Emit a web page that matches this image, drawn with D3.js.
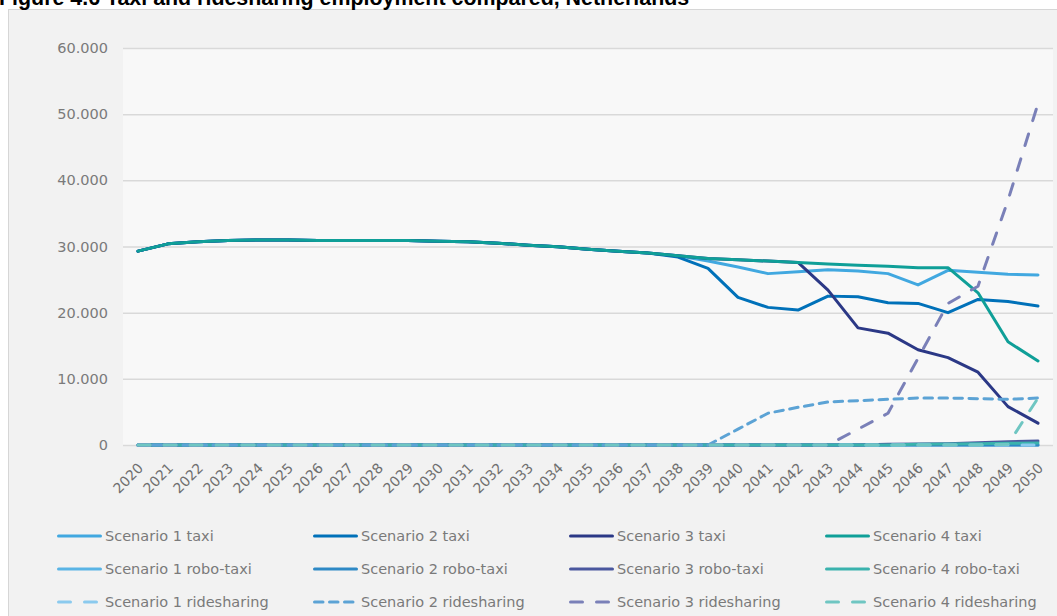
<!DOCTYPE html>
<html>
<head>
<meta charset="utf-8">
<script src="https://cdn.jsdelivr.net/npm/d3@7/dist/d3.min.js"></script>
<style>
  html, body { margin: 0; padding: 0; background: #ffffff; }
  svg { display: block; }
</style>
</head>
<body>
<svg id="chart" width="1057" height="616"></svg>
<script>
// Taxi and ridesharing employment, Netherlands, 2020-2050 (persons)
const years = ["2020","2021","2022","2023","2024","2025","2026","2027","2028","2029","2030",
  "2031","2032","2033","2034","2035","2036","2037","2038","2039","2040",
  "2041","2042","2043","2044","2045","2046","2047","2048","2049","2050"];

const yTicks = [0, 10000, 20000, 30000, 40000, 50000, 60000];

const s1Taxi = [29300,30400,30700,30900,31000,31000,30900,30900,30900,30900,30800,
  30700,30500,30200,29950,29600,29300,29000,28600,27800,26900,
  25900,26200,26500,26300,25900,24200,26400,26100,25800,25700];
const s2Taxi = [29300,30400,30700,30900,31000,31000,30900,30900,30900,30900,30800,
  30700,30500,30200,29950,29600,29300,29000,28400,26700,22300,
  20800,20400,22500,22400,21500,21400,20000,22000,21700,21000];
const s3Taxi = [29300,30400,30700,30900,31000,31000,30900,30900,30900,30900,30800,
  30700,30500,30200,29950,29600,29300,29000,28600,28200,28000,
  27800,27600,23400,17700,16900,14400,13200,11000,5800,3300];
const s4Taxi = [29300,30400,30700,30900,31000,31000,30900,30900,30900,30900,30800,
  30700,30500,30200,29950,29600,29300,29000,28600,28200,28000,
  27800,27600,27350,27150,27000,26800,26800,23000,15600,12700];

const s1Robo = [0,0,0,0,0,0,0,0,0,0,0, 0,0,0,0,0,0,0,0,0,0, 0,0,0,0,0,0,0,0,0,0];
const s2Robo = [0,0,0,0,0,0,0,0,0,0,0, 0,0,0,0,0,0,0,0,0,0, 0,0,0,0,0,0,0,0,0,0];
const s3Robo = [0,0,0,0,0,0,0,0,0,0,0, 0,0,0,0,0,0,0,0,0,0, 0,0,0,0,100,150,200,350,500,600];
const s4Robo = [0,0,0,0,0,0,0,0,0,0,0, 0,0,0,0,0,0,0,0,0,0, 0,0,0,0,0,100,150,200,250,300];

const s1Ride = [0,0,0,0,0,0,0,0,0,0,0, 0,0,0,0,0,0,0,0,0,0, 0,0,0,0,0,0,0,0,0,0];
const s2Ride = [0,0,0,0,0,0,0,0,0,0,0, 0,0,0,0,0,0,0,0,0,2400, 4800,5700,6500,6700,6900,7100,7100,7000,6900,7100];
const s3Ride = [0,0,0,0,0,0,0,0,0,0,0, 0,0,0,0,0,0,0,0,0,0, 0,0,0,2400,4800,13100,21400,24000,37000,51600];
const s4Ride = [0,0,0,0,0,0,0,0,0,0,0, 0,0,0,0,0,0,0,0,0,0, 0,0,0,0,0,0,0,0,100,7100];

const seriesNames = [
  "Scenario 1 taxi", "Scenario 2 taxi", "Scenario 3 taxi", "Scenario 4 taxi",
  "Scenario 1 robo-taxi", "Scenario 2 robo-taxi", "Scenario 3 robo-taxi", "Scenario 4 robo-taxi",
  "Scenario 1 ridesharing", "Scenario 2 ridesharing", "Scenario 3 ridesharing", "Scenario 4 ridesharing"
];
const seriesValues = [s1Taxi, s2Taxi, s3Taxi, s4Taxi, s1Robo, s2Robo, s3Robo, s4Robo, s1Ride, s2Ride, s3Ride, s4Ride];

// Styling
const colors = ["#41a8e0", "#0071b9", "#2b3886", "#0f9f98",
                "#5ab4e5", "#2e89c5", "#4a579e", "#3ab2ad",
                "#8bcaee", "#5ca3d5", "#7a80b8", "#6fc6c2"];
const dashes = [null, null, null, null,
                null, null, null, null,
                "12,14", "8.5,6.5", "12,14", "12,14"];

const series = seriesNames.map((name, i) => ({
  name, color: colors[i], dash: dashes[i],
  values: seriesValues[i].map((v, j) => ({ year: years[j], value: v }))
}));

const svg = d3.select("#chart");
const W = 1057, H = 616;
const plot = { left: 123, right: 1053, top: 48, bottom: 445 };
const fontFamily = "'DejaVu Sans', sans-serif";

// Chart frame
svg.append("rect").attr("x", 0).attr("y", 0).attr("width", W).attr("height", H).attr("fill", "#ffffff");
svg.append("rect")
  .attr("x", 8.5).attr("y", 9.5).attr("width", 1060).attr("height", 620)
  .attr("fill", "#f2f2f2").attr("stroke", "#d6d6d6").attr("stroke-width", 1);
svg.append("rect")
  .attr("x", plot.left).attr("y", plot.top)
  .attr("width", plot.right - plot.left).attr("height", plot.bottom - plot.top)
  .attr("fill", "#f8f8f8");

// Title
svg.append("text")
  .attr("x", -1).attr("y", 5)
  .attr("font-family", "'Liberation Sans', Arial, sans-serif")
  .attr("font-weight", "bold").attr("font-size", 21.4)
  .attr("fill", "#000000")
  .text("Figure 4.6 Taxi and ridesharing employment compared, Netherlands");

// Scales
const x = d3.scalePoint().domain(years).range([plot.left, plot.right]).padding(0.5);
const y = d3.scaleLinear().domain([0, 60000]).range([plot.bottom, plot.top]);

const nlFormat = d3.formatLocale({ decimal: ",", thousands: ".", grouping: [3], currency: ["€", ""] }).format(",.0f");

// Horizontal gridlines + y labels
const yAxis = d3.axisLeft(y).tickValues(yTicks).tickFormat(nlFormat)
  .tickSize(-(plot.right - plot.left)).tickPadding(15);
const gy = svg.append("g").attr("transform", `translate(${plot.left},0)`).call(yAxis);
gy.select(".domain").remove();
gy.selectAll(".tick line").attr("stroke", "#d9d9d9").attr("stroke-width", 1.5);
gy.selectAll(".tick text")
  .attr("font-family", fontFamily).attr("font-size", 14.5)
  .attr("fill", "#7a7a7a");

// X axis labels (rotated)
const xAxis = d3.axisBottom(x).tickSize(0).tickPadding(0);
const gx = svg.append("g").attr("transform", `translate(0,${plot.bottom})`).call(xAxis);
gx.select(".domain").remove();
gx.selectAll(".tick text")
  .attr("font-family", fontFamily).attr("font-size", 14)
  .attr("fill", "#6f6f6f")
  .attr("text-anchor", "end")
  .attr("dy", null).attr("y", null)
  .attr("transform", "translate(5.6,24) rotate(-45)");

// Lines
const line = d3.line()
  .x(d => x(d.year))
  .y(d => y(d.value));

svg.append("g").selectAll("path")
  .data(series)
  .join("path")
  .attr("d", d => line(d.values))
  .attr("fill", "none")
  .attr("stroke", d => d.color)
  .attr("stroke-width", 3)
  .attr("stroke-linejoin", "round")
  .attr("stroke-linecap", "round")
  .attr("stroke-dasharray", d => d.dash);

// Legend: 4 columns x 3 rows
const legend = svg.append("g");
const colX = [57, 313, 569, 825];
const rowY = [536, 569, 602];
series.forEach((s, i) => {
  const col = i % 4, row = Math.floor(i / 4);
  const g = legend.append("g").attr("transform", `translate(${colX[col]},${rowY[row]})`);
  g.append("line")
    .attr("x1", 1.5).attr("x2", 43.5).attr("y1", 0).attr("y2", 0)
    .attr("stroke", s.color).attr("stroke-width", 3)
    .attr("stroke-linecap", "round")
    .attr("stroke-dasharray", s.dash);
  g.append("text")
    .attr("x", 48).attr("y", 0).attr("dy", "0.35em")
    .attr("font-family", fontFamily).attr("font-size", 14.5)
    .attr("fill", "#7a7a7a")
    .text(s.name);
});
</script>
</body>
</html>
